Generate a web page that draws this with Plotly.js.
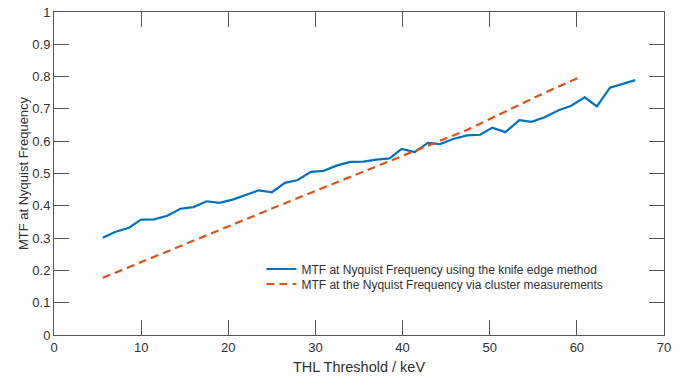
<!DOCTYPE html>
<html>
<head>
<meta charset="utf-8">
<script src="https://cdn.plot.ly/plotly-3.0.1.min.js"></script>
<style>html,body{margin:0;padding:0;background:#fff}#chart{width:685px;height:379px}</style>
</head>
<body>
<div id="chart"></div>
<script>
// Knife-edge method: THL threshold (keV) and MTF at Nyquist frequency
const knifeKeV = [5.6, 7.0, 8.6, 10.0, 11.5, 13.0, 14.5, 16.0, 17.5, 19.0, 20.5, 22.0, 23.5, 25.0,
  26.5, 27.9, 29.5, 30.9, 32.5, 34.0, 35.5, 37.0, 38.5, 39.9, 41.4, 42.9, 44.3, 45.8,
  47.4, 48.9, 50.3, 51.8, 53.4, 54.8, 56.3, 57.9, 59.3, 60.9, 62.3, 63.8, 65.3, 66.7];
const knifeMTF = [0.301, 0.319, 0.332, 0.357, 0.358, 0.369, 0.391, 0.396, 0.414, 0.409, 0.419, 0.434, 0.448, 0.442,
  0.471, 0.479, 0.505, 0.508, 0.525, 0.536, 0.537, 0.543, 0.547, 0.576, 0.566, 0.595, 0.591, 0.607,
  0.618, 0.620, 0.642, 0.628, 0.665, 0.660, 0.674, 0.696, 0.709, 0.736, 0.708, 0.766, 0.777, 0.789];
// Cluster measurements
const clusterKeV = [5.6, 26.5, 47.4, 56.0, 60.3];
const clusterMTF = [0.177, 0.408, 0.635, 0.746, 0.798];

const xTicks = [0, 10, 20, 30, 40, 50, 60, 70];
const yTicks = [0, 0.1, 0.2, 0.3, 0.4, 0.5, 0.6, 0.7, 0.8, 0.9, 1];

const labelKnife = 'MTF at Nyquist Frequency using the knife edge method';
const labelCluster = 'MTF at the Nyquist Frequency via cluster measurements';

const FONT = 'Liberation Sans, Arial, sans-serif';
const TXT = '#303030';
const AX = '#555555';

const traces = [
  {x: knifeKeV, y: knifeMTF, type: 'scatter', mode: 'lines', name: labelKnife,
   line: {color: '#0072BD', width: 2.2}, legend: 'legend'},
  {x: clusterKeV, y: clusterMTF, type: 'scatter', mode: 'lines', name: labelCluster,
   line: {color: '#D95319', width: 2.2, dash: '8px,5px'}, legend: 'legend2'}
];

const axisCommon = {
  showgrid: false, zeroline: false, showline: true, linecolor: AX, linewidth: 1,
  mirror: 'ticks', ticks: 'inside', ticklen: 15, tickcolor: AX, tickwidth: 1,
  tickfont: {family: FONT, size: 13, color: TXT}
};

const legendCommon = {xanchor: 'left', yanchor: 'middle', bgcolor: 'rgba(0,0,0,0)',
  font: {family: FONT, size: 12, color: TXT}};

const layout = {
  width: 685, height: 379,
  margin: {l: 54, r: 21, t: 12, b: 44},
  paper_bgcolor: '#fff', plot_bgcolor: '#fff',
  showlegend: true,
  legend: Object.assign({}, legendCommon, {x: 0.34, y: (335 - 269) / 323}),
  legend2: Object.assign({}, legendCommon, {x: 0.34, y: (335 - 284) / 323}),
  xaxis: Object.assign({}, axisCommon, {range: [0, 70], tickvals: xTicks,
    title: {text: 'THL Threshold / keV', font: {family: FONT, size: 14.5, color: TXT}, standoff: 8}}),
  yaxis: Object.assign({}, axisCommon, {range: [0, 1], tickvals: yTicks,
    title: {text: 'MTF at Nyquist Frequency', font: {family: FONT, size: 13, color: TXT}, standoff: 0}})
};

Plotly.newPlot('chart', traces, layout, {displayModeBar: false, staticPlot: true});
</script>
</body>
</html>
